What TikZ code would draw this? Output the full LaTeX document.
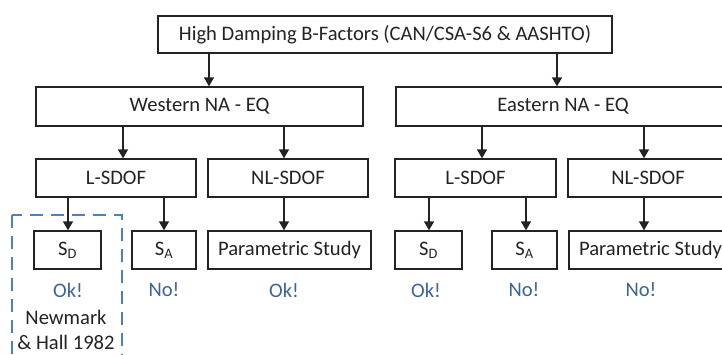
\documentclass[tikz,border=0pt]{standalone}
\usepackage{fontspec}
\setmainfont{Carlito}
\usetikzlibrary{arrows.meta}
\definecolor{okblue}{RGB}{62,100,150}
\definecolor{dashblue}{RGB}{80,128,185}
\definecolor{ink}{RGB}{35,35,35}
\begin{document}
\begin{tikzpicture}[x=1pt,y=-1pt,
  box/.style={draw=ink,line width=1.3pt,minimum height=38pt,inner sep=0pt,
    font=\fontsize{20.6}{24}\selectfont,text=ink},
  arr/.style={draw=ink,line width=1.3pt,-{Triangle[length=9pt,width=10pt]}},
  lbl/.style={font=\fontsize{20.6}{25}\selectfont,text=okblue},
  note/.style={font=\fontsize{20.6}{25}\selectfont,text=ink,align=center}]
\useasboundingbox (0,0) rectangle (722,354);
% boxes
\node[box,minimum width=454pt,minimum height=37pt] (top) at (385,34.5) {High Damping B-Factors (CAN/CSA-S6 \& AASHTO)};
\node[box,minimum width=327pt,minimum height=39pt] (west) at (199.5,106.5) {Western NA - EQ};
\node[box,minimum width=334pt,minimum height=39pt] (east) at (563,106.5) {Eastern NA - EQ};
\node[box,minimum width=160pt] (lw) at (116,178) {L-SDOF};
\node[box,minimum width=160pt] (nlw) at (288,178) {NL-SDOF};
\node[box,minimum width=161pt] (le) at (475.5,178) {L-SDOF};
\node[box,minimum width=160pt] (nle) at (648,178) {NL-SDOF};
\node[box,minimum width=67pt] (sdw) at (67.5,250) {S\textsubscript{D}};
\node[box,minimum width=64pt] (saw) at (164,250) {S\textsubscript{A}};
\node[box,minimum width=163pt] (pw) at (289.5,250) {Parametric Study};
\node[box,minimum width=67pt] (sde) at (428.5,250) {S\textsubscript{D}};
\node[box,minimum width=65pt] (sae) at (524.5,250) {S\textsubscript{A}};
\node[box,minimum width=163pt] (pe) at (650.5,250) {Parametric Study};
% arrow x positions
\coordinate (x1) at (209,0);
\coordinate (x2) at (557,0);
\coordinate (x3) at (123,0);
\coordinate (x4) at (284,0);
\coordinate (x5) at (482,0);
\coordinate (x6) at (644,0);
\coordinate (x7) at (68,0);
\coordinate (x8) at (164,0);
\coordinate (x9) at (429,0);
\coordinate (x10) at (526,0);
\draw[arr] (top.south -| x1) -- (west.north -| x1);
\draw[arr] (top.south -| x2) -- (east.north -| x2);
\draw[arr] (west.south -| x3) -- (lw.north -| x3);
\draw[arr] (west.south -| x4) -- (nlw.north -| x4);
\draw[arr] (east.south -| x5) -- (le.north -| x5);
\draw[arr] (east.south -| x6) -- (nle.north -| x6);
\draw[arr] (lw.south -| x7) -- (sdw.north -| x7);
\draw[arr] (lw.south -| x8) -- (saw.north -| x8);
\draw[arr] (nlw.south -| x4) -- (pw.north -| x4);
\draw[arr] (le.south -| x9) -- (sde.north -| x9);
\draw[arr] (le.south -| x10) -- (sae.north -| x10);
\draw[arr] (nle.south -| x6) -- (pe.north -| x6);
% labels
\node[lbl] (okw) at (68,290) {Ok!};
\node[lbl] (now) at (164,290) {No!};
\node[lbl] (okp) at (284,290) {Ok!};
\node[lbl] (oke) at (426,290) {Ok!};
\node[lbl] (noe) at (524,290) {No!};
\node[lbl] (nop) at (641,290) {No!};
\node[note] (nh) at (66,330) {Newmark\\\& Hall 1982};
% dashed frame
\draw[dashblue,line width=2pt,dash pattern=on 13pt off 8pt] (12,215) rectangle (122,362);
\end{tikzpicture}
\end{document}
